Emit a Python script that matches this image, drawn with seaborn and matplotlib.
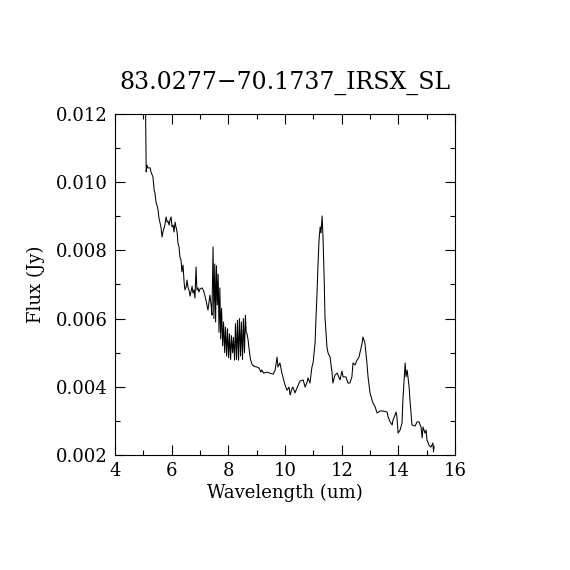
import matplotlib
matplotlib.use("Agg")
import matplotlib.pyplot as plt
from matplotlib.ticker import MultipleLocator, FormatStrFormatter
import seaborn as sns
import pandas as pd

title = "83.0277\u221270.1737_IRSX_SL"
x_label = "Wavelength (um)"
y_label = "Flux (Jy)"

wavelength = [
    5.08, 5.10, 5.13, 5.16, 5.24, 5.27, 5.34, 5.38, 5.41, 5.45, 5.48, 5.52, 5.55,
    5.59, 5.62, 5.66, 5.69, 5.73, 5.76, 5.80, 5.84, 5.87, 5.91, 5.94, 5.98, 6.01,
    6.05, 6.08, 6.12, 6.15, 6.19, 6.22, 6.26, 6.29, 6.33, 6.36, 6.40, 6.44, 6.47,
    6.51, 6.54, 6.58, 6.61, 6.65, 6.68, 6.72, 6.75, 6.79, 6.82, 6.86, 6.89, 6.93,
    6.96, 7.00, 7.07, 7.11, 7.14, 7.21, 7.28, 7.35, 7.39,
    7.42, 7.46, 7.49, 7.52, 7.55, 7.58, 7.61, 7.64, 7.67, 7.70, 7.73, 7.76, 7.80,
    7.83, 7.87, 7.90, 7.94, 7.97, 8.01, 8.04, 8.08, 8.11, 8.15, 8.18, 8.22, 8.25,
    8.29, 8.32, 8.36, 8.39, 8.43, 8.46, 8.50, 8.53, 8.57, 8.60, 8.63, 8.66,
    8.70, 8.74, 8.78, 8.84, 8.91, 9.01,
    9.08, 9.15, 9.18, 9.25, 9.36, 9.47,
    9.58, 9.65, 9.72, 9.75, 9.82, 9.89, 10.00, 10.07, 10.14, 10.18, 10.25, 10.28,
    10.35, 10.42, 10.53, 10.64, 10.71, 10.78, 10.81, 10.88, 10.95, 10.99, 11.06,
    11.09, 11.13, 11.16, 11.20, 11.24, 11.27, 11.31, 11.34, 11.38, 11.41, 11.48,
    11.52, 11.59, 11.66, 11.69, 11.76, 11.84, 11.87, 11.94, 12.01, 12.05, 12.15,
    12.22, 12.29, 12.36, 12.40, 12.47, 12.54, 12.61, 12.72, 12.75, 12.82, 12.89,
    12.93, 13.00, 13.07, 13.11, 13.18, 13.25, 13.35, 13.46, 13.60, 13.64, 13.71,
    13.78, 13.81, 13.92, 13.95, 13.99, 14.06, 14.13, 14.16, 14.24, 14.27, 14.31,
    14.38, 14.41, 14.48, 14.59, 14.66, 14.73, 14.80, 14.84, 14.87, 14.94, 14.98,
    15.01, 15.08, 15.15, 15.22, 15.24, 15.26,
]

flux = [
    0.01200, 0.01030, 0.01050, 0.01042, 0.01042, 0.01030, 0.01015, 0.00977, 0.00968,
    0.00939, 0.00933, 0.00918, 0.00895, 0.00880, 0.00869, 0.00839, 0.00854, 0.00866,
    0.00874, 0.00898, 0.00883, 0.00886, 0.00874, 0.00889, 0.00898, 0.00869, 0.00874,
    0.00854, 0.00883, 0.00869, 0.00854, 0.00822, 0.00810, 0.00781, 0.00772, 0.00737,
    0.00757, 0.00704, 0.00684, 0.00693, 0.00713, 0.00690, 0.00684, 0.00666, 0.00678,
    0.00695, 0.00675, 0.00684, 0.00660, 0.00751, 0.00684, 0.00690, 0.00678, 0.00687,
    0.00690, 0.00684, 0.00678, 0.00654, 0.00625, 0.00669, 0.00640,
    0.00610, 0.00810, 0.00600, 0.00760, 0.00590, 0.00755, 0.00640, 0.00730, 0.00560,
    0.00690, 0.00540, 0.00630, 0.00520, 0.00590, 0.00500, 0.00575, 0.00490, 0.00570,
    0.00485, 0.00555, 0.00480, 0.00550, 0.00500, 0.00545, 0.00478, 0.00585, 0.00480,
    0.00595, 0.00478, 0.00600, 0.00490, 0.00590, 0.00480, 0.00600, 0.00500, 0.00610,
    0.00560, 0.00555,
    0.00535, 0.00505, 0.00480, 0.00465, 0.00460, 0.00458,
    0.00455, 0.00443, 0.00449, 0.00440, 0.00443, 0.00440,
    0.00437, 0.00449, 0.00487, 0.00458,
    0.00470, 0.00440, 0.00405, 0.00390, 0.00399, 0.00376, 0.00396, 0.00399, 0.00382,
    0.00396, 0.00417, 0.00420, 0.00399, 0.00414, 0.00426, 0.00411, 0.00458, 0.00470,
    0.00528, 0.00596, 0.00675, 0.00751, 0.00830, 0.00869, 0.00851, 0.00901, 0.00839,
    0.00722, 0.00605, 0.00516, 0.00499, 0.00487, 0.00440, 0.00411, 0.00434, 0.00440,
    0.00434, 0.00420, 0.00446, 0.00429, 0.00429, 0.00411, 0.00411, 0.00429, 0.00470,
    0.00464, 0.00478, 0.00487, 0.00528, 0.00546, 0.00528, 0.00470, 0.00429, 0.00382,
    0.00361, 0.00352, 0.00341, 0.00323, 0.00329, 0.00329, 0.00326, 0.00311, 0.00297,
    0.00288, 0.00302, 0.00326, 0.00311, 0.00264, 0.00273, 0.00294, 0.00361, 0.00470,
    0.00429, 0.00449, 0.00399, 0.00361, 0.00288, 0.00285, 0.00297, 0.00297, 0.00282,
    0.00250, 0.00282, 0.00264, 0.00273, 0.00244, 0.00229, 0.00223, 0.00235, 0.00209,
    0.00226,
]

x_range = (4, 16)
y_range = (0.002, 0.012)

sns.set_style("ticks")
plt.rcParams["font.family"] = ["DejaVu Serif", "DejaVu Sans"]
plt.rcParams["text.color"] = "black"
plt.rcParams["axes.labelcolor"] = "black"
plt.rcParams["xtick.color"] = "black"
plt.rcParams["ytick.color"] = "black"

df = pd.DataFrame({"wavelength": wavelength, "flux": flux})

fig = plt.figure(figsize=(5.7, 5.7), dpi=100)
ax = fig.add_axes([0.2018, 0.2018, 0.5965, 0.5982])
sns.lineplot(data=df, x="wavelength", y="flux", ax=ax, color="black",
             linewidth=0.75, estimator=None, sort=False)

ax.set_xlim(*x_range)
ax.set_ylim(*y_range)
ax.xaxis.set_major_locator(MultipleLocator(2))
ax.xaxis.set_minor_locator(MultipleLocator(1))
ax.yaxis.set_major_locator(MultipleLocator(0.002))
ax.yaxis.set_minor_locator(MultipleLocator(0.001))
ax.yaxis.set_major_formatter(FormatStrFormatter("%.3f"))
ax.xaxis.set_major_formatter(FormatStrFormatter("%d"))
ax.tick_params(which="both", direction="in", top=True, right=True,
               color="black", labelcolor="black", width=0.8, labelsize=13, pad=5)
ax.tick_params(which="major", length=7)
ax.tick_params(which="minor", length=3.5)
for s in ax.spines.values():
    s.set_color("black")
    s.set_linewidth(0.8)

ax.set_xlabel(x_label, fontsize=13, labelpad=3, color="black")
ax.set_ylabel(y_label, fontsize=13, labelpad=8, color="black")
ax.set_title(title, fontsize=17, pad=18, color="black")

fig.savefig("out.png", dpi=100, facecolor="white")
